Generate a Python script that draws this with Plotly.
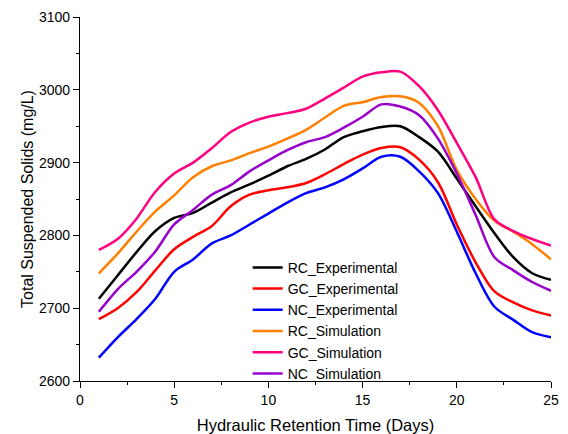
import plotly.graph_objects as go

days = list(range(1, 26))

rc_experimental = [2713, 2745, 2777, 2806, 2824, 2831, 2845, 2859, 2870, 2882, 2895, 2905, 2918,
                   2935, 2943, 2949, 2950, 2935, 2915, 2878, 2840, 2803, 2770, 2748, 2739]
gc_experimental = [2685, 2700, 2722, 2752, 2781, 2798, 2813, 2840, 2856, 2862, 2866, 2872, 2884,
                   2898, 2911, 2920, 2921, 2904, 2873, 2815, 2763, 2723, 2708, 2697, 2690]
nc_experimental = [2632, 2660, 2685, 2713, 2750, 2767, 2789, 2800, 2815, 2830, 2845, 2858, 2866,
                   2877, 2892, 2908, 2908, 2888, 2858, 2805, 2748, 2702, 2684, 2667, 2660]
rc_simulation = [2748, 2775, 2805, 2833, 2855, 2880, 2895, 2903, 2913, 2922, 2933, 2945, 2962,
                 2978, 2983, 2990, 2991, 2982, 2950, 2890, 2850, 2820, 2805, 2788, 2767]
gc_simulation = [2780, 2795, 2823, 2860, 2885, 2900, 2920, 2942, 2955, 2963, 2968, 2974, 2988,
                 3003, 3018, 3024, 3025, 3005, 2972, 2927, 2880, 2822, 2806, 2795, 2786]
nc_simulation = [2695, 2726, 2750, 2778, 2815, 2835, 2856, 2869, 2888, 2903, 2917, 2928, 2935,
                 2948, 2963, 2980, 2977, 2965, 2933, 2885, 2828, 2770, 2752, 2736, 2724]

series_names = ["RC_Experimental", "GC_Experimental", "NC_Experimental",
                "RC_Simulation", "GC_Simulation", "NC_Simulation"]
series_values = [rc_experimental, gc_experimental, nc_experimental,
                 rc_simulation, gc_simulation, nc_simulation]
colors = ["#000000", "#FF0000", "#0000FF", "#FF8000", "#FF0080", "#9900CC"]

x_ticks = [0, 5, 10, 15, 20, 25]
y_ticks = [2600, 2700, 2800, 2900, 3000, 3100]

fig = go.Figure()
for name, vals, col in zip(series_names, series_values, colors):
    fig.add_trace(go.Scatter(x=days, y=vals, name=name, mode="lines",
                             line=dict(color=col, width=2.5, shape="spline", smoothing=0.9)))

font = "Liberation Sans, Arial, sans-serif"
axis_common = dict(showline=True, linecolor="black", linewidth=1.3, ticks="outside",
                   ticklen=6, tickwidth=1.2, tickcolor="black", showgrid=False, zeroline=False,
                   tickfont=dict(family=font, size=14, color="black"), mirror=False,
                   automargin=False)

fig.update_layout(
    width=568, height=434,
    margin=dict(l=80, r=17, t=17, b=53),
    plot_bgcolor="white", paper_bgcolor="white",
    font=dict(family=font, color="black"),
    xaxis=dict(range=[0, 25], tickvals=x_ticks,
               title=dict(text="Hydraulic Retention Time (Days)", font=dict(size=16.5), standoff=12),
               minor=dict(dtick=2.5, ticks="outside", ticklen=3, tickcolor="black", tickwidth=1.2),
               **axis_common),
    yaxis=dict(range=[2600, 3100], tickvals=y_ticks,
               title=dict(text="Total Suspended Solids (mg/L)", font=dict(size=16), standoff=1),
               minor=dict(dtick=50, ticks="outside", ticklen=3, tickcolor="black", tickwidth=1.2),
               **axis_common),
    legend=dict(x=0.356, y=0.355, xanchor="left", yanchor="top", bgcolor="rgba(0,0,0,0)",
                font=dict(family=font, size=14, color="black")),
    showlegend=True,
)

fig.write_html("out.html", config={"displayModeBar": False},
               post_script="document.body.style.margin='0';document.body.style.padding='0';")
